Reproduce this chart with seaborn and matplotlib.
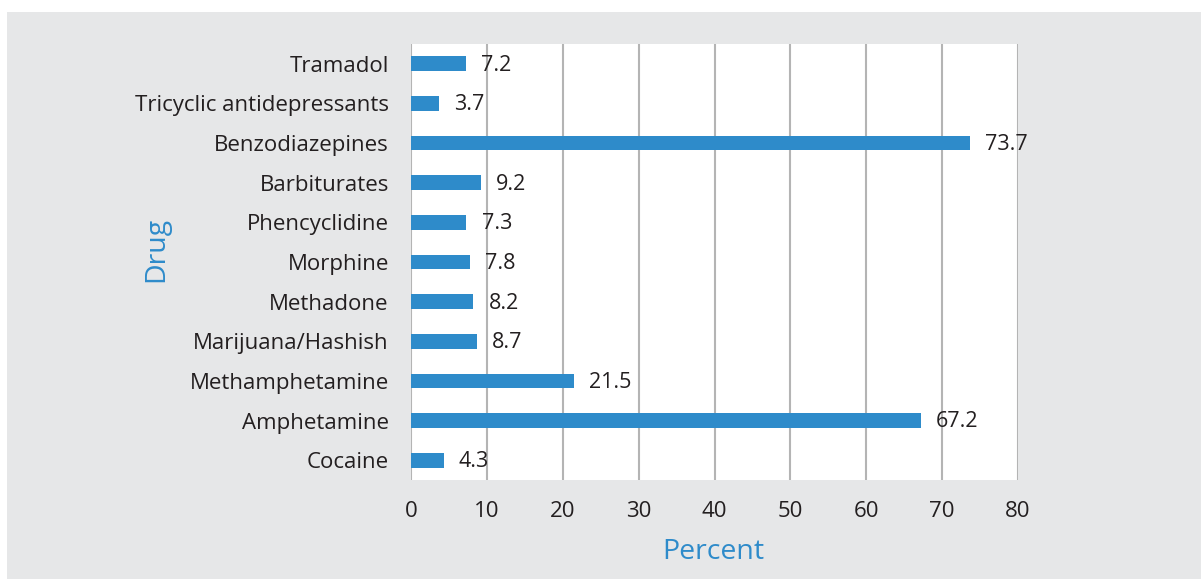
import matplotlib
matplotlib.use("Agg")
import matplotlib.pyplot as plt
from matplotlib.patches import Rectangle
import seaborn as sns
import pandas as pd

drugs = [
    "Tramadol",
    "Tricyclic antidepressants",
    "Benzodiazepines",
    "Barbiturates",
    "Phencyclidine",
    "Morphine",
    "Methadone",
    "Marijuana/Hashish",
    "Methamphetamine",
    "Amphetamine",
    "Cocaine",
]
percent = [7.2, 3.7, 73.7, 9.2, 7.3, 7.8, 8.2, 8.7, 21.5, 67.2, 4.3]
x_ticks = [0, 10, 20, 30, 40, 50, 60, 70, 80]

BLUE = "#2e8bca"
TEXT = "#231f20"
PANEL = "#e6e7e8"
GRID = "#b4b4b4"

sns.set_theme(style="white")
plt.rcParams["font.family"] = ["Open Sans", "DejaVu Sans"]

df = pd.DataFrame({"Drug": drugs, "Percent": percent})

fig = plt.figure(figsize=(12.01, 5.79), dpi=100, facecolor="white")
fig.patches.append(Rectangle((7 / 1201, 0), 1, 1 - 12 / 579,
                             transform=fig.transFigure, facecolor=PANEL,
                             edgecolor="none", zorder=-10))

ax = fig.add_axes([411 / 1201, 99 / 579, 607 / 1201, 436 / 579])
ax.set_facecolor("white")

sns.barplot(data=df, x="Percent", y="Drug", order=drugs, orient="h",
            color=BLUE, saturation=1, width=0.37, linewidth=0,
            ax=ax, zorder=3)

for bar, val in zip(ax.patches, percent):
    ax.annotate(f"{val}", xy=(bar.get_width(), bar.get_y() + bar.get_height() / 2),
                xytext=(11, -1), textcoords="offset points",
                ha="left", va="center", fontsize=15.5, color=TEXT, zorder=5)

ax.set_xlim(0, 80)
ax.set_xticks(x_ticks)
ax.set_xticklabels([str(t) for t in x_ticks])
ax.xaxis.grid(True, color=GRID, linewidth=1.5, zorder=1)
ax.set_axisbelow(True)
for s in ax.spines.values():
    s.set_visible(False)
ax.tick_params(axis="both", length=0, labelsize=16, labelcolor=TEXT)
ax.tick_params(axis="y", pad=16)
ax.tick_params(axis="x", pad=15)

ax.set_xlabel("Percent", fontsize=20.5, color=BLUE, va="center")
ax.set_ylabel("Drug", fontsize=20.5, color=BLUE, va="center")
ax.xaxis.set_label_coords(0.4975, -0.165)
ax.yaxis.set_label_coords(-0.42, 0.528)

fig.savefig("out.png", dpi=100, facecolor="white")
